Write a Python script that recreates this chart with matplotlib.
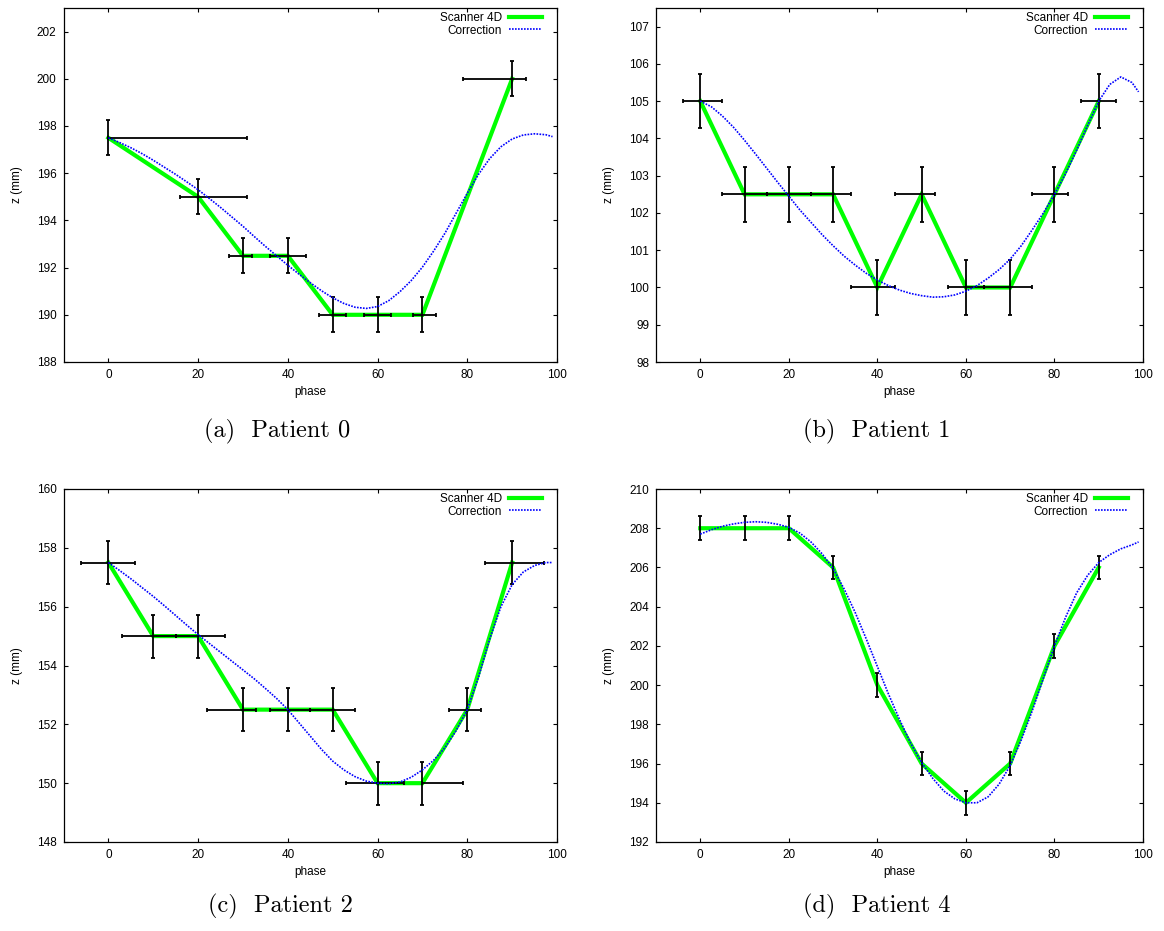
import matplotlib
matplotlib.use("Agg")
import matplotlib.pyplot as plt

plt.rcParams["font.family"] = ["Liberation Sans", "DejaVu Sans"]

W, H = 1164, 931

# ---- measured z positions per breathing phase (Scanner 4D) ----
phase_p0 = [0, 20, 30, 40, 50, 60, 70, 90]
z_p0 = [197.5, 195, 192.5, 192.5, 190, 190, 190, 200]
xlo_p0 = [0, 16, 27, 36, 47, 57, 68, 79]
xhi_p0 = [31, 31, 32, 44, 53, 63, 73, 93]
zerr_p0 = 0.74

phase_p1 = [0, 10, 20, 30, 40, 50, 60, 70, 80, 90]
z_p1 = [105, 102.5, 102.5, 102.5, 100, 102.5, 100, 100, 102.5, 105]
xlo_p1 = [-4, 5, 15, 25, 34, 44, 56, 64, 75, 86]
xhi_p1 = [5, 15, 25, 34, 44, 53, 64, 75, 83, 94]
zerr_p1 = 0.73

phase_p2 = [0, 10, 20, 30, 40, 50, 60, 70, 80, 90]
z_p2 = [157.5, 155, 155, 152.5, 152.5, 152.5, 150, 150, 152.5, 157.5]
xlo_p2 = [-6, 3, 15, 22, 36, 45, 53, 70, 76, 84]
xhi_p2 = [6, 15, 26, 33, 45, 55, 66, 79, 83, 97]
zerr_p2 = 0.73

phase_p4 = [0, 10, 20, 30, 40, 50, 60, 70, 80, 90]
z_p4 = [208, 208, 208, 206, 200, 196, 194, 196, 202, 206]
xlo_p4 = None
xhi_p4 = None
zerr_p4 = 0.6

# ---- corrected trajectories, sampled every 2.5 phase units ----
cphase = [0, 2.5, 5, 7.5, 10, 12.5, 15, 17.5, 20, 22.5, 25, 27.5, 30, 32.5, 35, 37.5,
          40, 42.5, 45, 47.5, 50, 52.5, 55, 57.5, 60, 62.5, 65, 67.5, 70, 72.5, 75, 77.5,
          80, 82.5, 85, 87.5, 90, 92.5, 95, 97.5, 99]

cz_p0 = [197.5, 197.3, 197.08, 196.83, 196.55, 196.25, 195.95, 195.63, 195.3, 194.93,
         194.55, 194.15, 193.75, 193.32, 192.9, 192.5, 192.1, 191.72, 191.36, 191.02,
         190.72, 190.48, 190.32, 190.27, 190.35, 190.6, 190.98, 191.45, 192.02, 192.7,
         193.45, 194.3, 195.15, 195.95, 196.62, 197.12, 197.45, 197.62, 197.67, 197.63,
         197.55]

cz_p1 = [105.0, 104.85, 104.6, 104.3, 103.95, 103.58, 103.2, 102.82, 102.45, 102.08,
         101.75, 101.42, 101.12, 100.84, 100.6, 100.38, 100.2, 100.05, 99.93, 99.84,
         99.78, 99.74, 99.75, 99.8, 99.9, 100.05, 100.25, 100.48, 100.76, 101.12,
         101.55, 102.0, 102.5, 103.05, 103.68, 104.35, 105.0, 105.45, 105.65, 105.5,
         105.25]

cz_p2 = [157.5, 157.23, 156.95, 156.65, 156.35, 156.03, 155.7, 155.37, 155.05, 154.75,
         154.45, 154.15, 153.85, 153.55, 153.22, 152.88, 152.5, 152.05, 151.6, 151.15,
         150.75, 150.45, 150.22, 150.07, 150.0, 149.98, 150.04, 150.2, 150.45, 150.78,
         151.2, 151.78, 152.5, 153.6, 154.9, 156.0, 156.75, 157.18, 157.4, 157.5,
         157.5]

cz_p4 = [207.7, 207.92, 208.1, 208.22, 208.3, 208.33, 208.3, 208.2, 208.05, 207.75,
         207.3, 206.7, 205.95, 204.9, 203.7, 202.35, 200.95, 199.55, 198.25, 197.05,
         196.05, 195.25, 194.6, 194.2, 194.0, 194.0, 194.3, 194.95, 195.9, 197.2,
         198.7, 200.35, 202.0, 203.45, 204.7, 205.6, 206.25, 206.65, 206.95, 207.15,
         207.3]

captions = ["(a)  Patient 0", "(b)  Patient 1", "(c)  Patient 2", "(d)  Patient 4"]
ylims = [(188, 203), (98, 107.5), (148, 160), (192, 210)]
yticks = [list(range(188, 203, 2)), list(range(98, 108)), list(range(148, 161, 2)), list(range(192, 211, 2))]
xticks = [0, 20, 40, 60, 80, 100]

panels = [
    (phase_p0, z_p0, xlo_p0, xhi_p0, zerr_p0, cz_p0),
    (phase_p1, z_p1, xlo_p1, xhi_p1, zerr_p1, cz_p1),
    (phase_p2, z_p2, xlo_p2, xhi_p2, zerr_p2, cz_p2),
    (phase_p4, z_p4, xlo_p4, xhi_p4, zerr_p4, cz_p4),
]

# axes boxes in pixels: left, right, top, bottom
boxes = [(63.5, 557, 8, 362), (656, 1143, 8, 362), (63.5, 557, 489, 842), (656, 1143, 489, 842)]
caption_pos = [(277, 431), (877, 431), (280, 906), (877, 906)]

fig = plt.figure(figsize=(W / 100, H / 100), dpi=100)

GREEN = "#00ff00"
BLUE = "#0000ff"
FS = 8.5

for i, (ph, z, xlo, xhi, zerr, cz) in enumerate(panels):
    l, r, t, b = boxes[i]
    ax = fig.add_axes([l / W, 1 - b / H, (r - l) / W, (b - t) / H])

    ax.plot(ph, z, color=GREEN, lw=3.0, label="Scanner 4D", zorder=2, solid_joinstyle="miter")
    if xlo is not None:
        xerr = [[p - lo for p, lo in zip(ph, xlo)], [hi - p for p, hi in zip(ph, xhi)]]
    else:
        xerr = None
    ax.errorbar(ph, z, yerr=zerr, xerr=xerr, fmt="none", ecolor="black",
                elinewidth=1.3, capsize=1.4, capthick=1.3, zorder=3)
    ax.plot(cphase, cz, color=BLUE, lw=1.2, ls=(0, (1, 0.8)), label="Correction", zorder=4)

    ax.set_xlim(-10, 100)
    ax.set_ylim(*ylims[i])
    ax.set_xticks(xticks)
    ax.set_yticks(yticks[i])
    ax.tick_params(direction="in", top=True, right=True, length=3, width=0.8,
                   labelsize=FS, pad=5)
    for s in ax.spines.values():
        s.set_linewidth(0.9)
    ax.set_xlabel("phase", fontsize=FS, labelpad=4)
    ax.set_ylabel("z (mm)", fontsize=FS, labelpad=10)

    ax.legend(loc="upper right", bbox_to_anchor=(1 - 15 / (r - l), 1 - 4 / (b - t)),
              frameon=False, markerfirst=False, fontsize=FS, handlelength=2.8,
              handletextpad=0.6, labelspacing=0.05, borderpad=0, borderaxespad=0)

    cx, cy = caption_pos[i]
    fig.text(cx / W, 1 - cy / H, captions[i], family="cmr10", fontsize=17.5,
             ha="center", va="center")

fig.savefig("out.png", dpi=100)
